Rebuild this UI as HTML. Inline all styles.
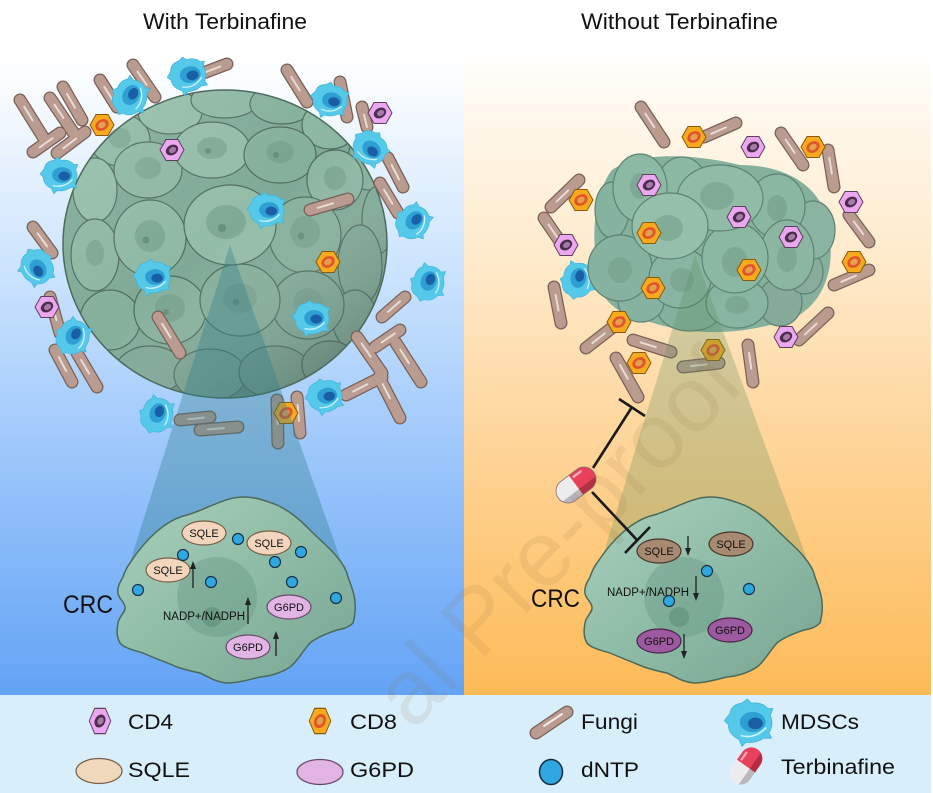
<!DOCTYPE html>
<html><head><meta charset="utf-8"><style>
html,body{margin:0;padding:0;background:#fff;width:933px;height:793px;overflow:hidden}
svg{display:block;overflow:hidden}
text{font-family:"Liberation Sans",Arial,sans-serif;fill:#111}
</style></head><body>
<svg width="933" height="793" viewBox="0 0 933 793" xmlns="http://www.w3.org/2000/svg" style="overflow:hidden">
<defs>
<linearGradient id="gL" gradientUnits="userSpaceOnUse" x1="0" y1="57" x2="0" y2="695">
<stop offset="0" stop-color="#ffffff"/><stop offset=".12" stop-color="#eef6fe"/><stop offset=".35" stop-color="#c9e2fd"/><stop offset=".6" stop-color="#a0c9fb"/><stop offset="1" stop-color="#63a3f5"/></linearGradient>
<linearGradient id="gR" gradientUnits="userSpaceOnUse" x1="0" y1="57" x2="0" y2="695">
<stop offset="0" stop-color="#fffefc"/><stop offset=".12" stop-color="#fff6e8"/><stop offset=".35" stop-color="#fee8c6"/><stop offset=".6" stop-color="#fed59a"/><stop offset="1" stop-color="#fdbb57"/></linearGradient>
<linearGradient id="shade" gradientUnits="userSpaceOnUse" x1="90" y1="100" x2="330" y2="400">
<stop offset="0" stop-color="#ffffff" stop-opacity=".12"/><stop offset=".5" stop-color="#ffffff" stop-opacity="0"/><stop offset="1" stop-color="#2c423a" stop-opacity=".35"/></linearGradient>
<linearGradient id="cellG" x1="0" y1="0" x2="1" y2="1">
<stop offset="0" stop-color="#a9d0bd"/><stop offset=".5" stop-color="#8dbba6"/><stop offset="1" stop-color="#79a592"/></linearGradient>
<clipPath id="tclip"><ellipse cx="225" cy="244" rx="162" ry="154"/></clipPath>
<clipPath id="frame"><rect x="0" y="0" width="933" height="793"/></clipPath>
<marker id="ah" markerWidth="8" markerHeight="8" refX="4" refY="4" orient="auto" markerUnits="userSpaceOnUse">
<path d="M0,1 L8,4 L0,7 Z" fill="#222"/></marker>

<g id="cd4"><path d="M-12,0 L-6,-10.5 L6,-10.5 L12,0 L6,10.5 L-6,10.5Z" fill="#eba7ef" stroke="#5e3f5e" stroke-width="1"/><ellipse rx="6.5" ry="5" transform="rotate(-30)" fill="#4b2d4d"/><ellipse cx=".5" cy=".3" rx="3.8" ry="2.8" transform="rotate(-30)" fill="#a57aa8"/></g>
<g id="cd8"><path d="M-12,0 L-6,-10.5 L6,-10.5 L12,0 L6,10.5 L-6,10.5Z" fill="#f7aa1e" stroke="#8a5a0a" stroke-width="1"/><ellipse rx="7" ry="5.5" transform="rotate(-30)" fill="#e2552a"/><ellipse rx="4" ry="3" transform="rotate(-30)" fill="#e3a050"/></g>
<g id="md"><path d="M-15,-6 Q-14,-13 -6,-14 L-2,-17 L1,-14 Q9,-15 13,-10 L17,-10 L15,-5 Q18,2 14,8 L16,12 L10,12 Q4,16 -3,15 L-6,18 L-8,13 Q-16,9 -16,2 L-19,-1 Z" fill="#55c9ea" stroke="#3fb3d8" stroke-width=".6" stroke-linejoin="round"/><ellipse cx="2" cy="0" rx="9.5" ry="7.5" fill="#2e9fd3"/><ellipse cx="4" cy="1" rx="5.5" ry="4.3" fill="#1a5fa6"/><path d="M-7,10 Q4,13 12,4" fill="none" stroke="#e8f8ff" stroke-width="1.2" opacity=".85"/></g>

<g id="rodsL">
<line x1="20" y1="100" x2="43" y2="137"/><line x1="50" y1="98" x2="75" y2="135"/><line x1="63" y1="87" x2="82" y2="120"/>
<line x1="33" y1="152" x2="60" y2="133"/><line x1="57" y1="153" x2="85" y2="132"/><line x1="100" y1="80" x2="117" y2="107"/>
<line x1="133" y1="65" x2="155" y2="97"/><line x1="198" y1="75" x2="227" y2="64"/><line x1="287" y1="70" x2="307" y2="102"/>
<line x1="340" y1="82" x2="347" y2="117"/><line x1="362" y1="107" x2="367" y2="127"/><line x1="388" y1="158" x2="403" y2="187"/>
<line x1="380" y1="183" x2="398" y2="213"/><line x1="310" y1="210" x2="348" y2="199"/><line x1="33" y1="227" x2="52" y2="253"/>
<line x1="50" y1="297" x2="60" y2="333"/><line x1="55" y1="350" x2="72" y2="382"/><line x1="77" y1="353" x2="97" y2="387"/>
<line x1="158" y1="317" x2="180" y2="353"/><line x1="382" y1="317" x2="405" y2="297"/><line x1="357" y1="337" x2="382" y2="373"/>
<line x1="396" y1="343" x2="421" y2="382"/><line x1="375" y1="347" x2="400" y2="330"/><line x1="346" y1="395" x2="382" y2="377"/>
<line x1="379" y1="377" x2="400" y2="418"/><line x1="277" y1="400" x2="278" y2="443"/><line x1="297" y1="397" x2="300" y2="433"/>
<line x1="200" y1="430" x2="238" y2="427"/><line x1="180" y1="420" x2="210" y2="417"/>
</g>
<g id="rodsR">
<line x1="641" y1="107" x2="664" y2="142"/><line x1="704" y1="137" x2="736" y2="123"/><line x1="781" y1="133" x2="803" y2="165"/>
<line x1="828" y1="150" x2="834" y2="187"/><line x1="551" y1="207" x2="579" y2="180"/><line x1="544" y1="218" x2="561" y2="243"/>
<line x1="554" y1="287" x2="561" y2="323"/><line x1="849" y1="215" x2="869" y2="242"/><line x1="834" y1="285" x2="869" y2="270"/>
<line x1="799" y1="340" x2="828" y2="313"/><line x1="586" y1="348" x2="613" y2="327"/><line x1="633" y1="340" x2="671" y2="352"/>
<line x1="683" y1="367" x2="719" y2="363"/><line x1="748" y1="345" x2="753" y2="382"/><line x1="616" y1="358" x2="638" y2="397"/>
</g>
</defs>

<g clip-path="url(#frame)">
<!-- backgrounds -->
<rect x="0" y="0" width="933" height="793" fill="#fff"/>
<rect x="0" y="57" width="464" height="638" fill="url(#gL)"/>
<rect x="464" y="57" width="467" height="638" fill="url(#gR)"/>
<rect x="0" y="695" width="931" height="98" fill="#d8eefb"/>

<!-- titles -->
<text x="143" y="29" font-size="22" textLength="164" lengthAdjust="spacingAndGlyphs">With Terbinafine</text>
<text x="581" y="29" font-size="22" textLength="197" lengthAdjust="spacingAndGlyphs">Without Terbinafine</text>

<!-- LEFT TUMOR -->
<ellipse cx="225" cy="244" rx="162" ry="154" fill="#7fa996"/>
<g clip-path="url(#tclip)" stroke="#4d6b5d" stroke-width="1.2">
<ellipse cx="225" cy="395" rx="90" ry="22" fill="#6f8f82"/>
<ellipse cx="120" cy="140" rx="30" ry="26" fill="#8cb6a2"/>
<ellipse cx="170" cy="112" rx="32" ry="22" fill="#91bba7"/>
<ellipse cx="225" cy="100" rx="34" ry="18" fill="#8cb6a2"/>
<ellipse cx="282" cy="104" rx="32" ry="20" fill="#84af9b"/>
<ellipse cx="330" cy="125" rx="28" ry="24" fill="#8cb6a2"/>
<ellipse cx="368" cy="160" rx="20" ry="30" fill="#84af9b"/>
<ellipse cx="95" cy="190" rx="22" ry="32" fill="#91bba7"/>
<ellipse cx="148" cy="170" rx="34" ry="28" fill="#8cb6a2"/>
<ellipse cx="212" cy="150" rx="38" ry="28" fill="#91bba7"/>
<ellipse cx="280" cy="155" rx="36" ry="28" fill="#84af9b"/>
<ellipse cx="335" cy="180" rx="28" ry="30" fill="#8cb6a2"/>
<ellipse cx="378" cy="220" rx="16" ry="34" fill="#80aa97"/>
<ellipse cx="95" cy="255" rx="24" ry="36" fill="#8cb6a2"/>
<ellipse cx="360" cy="265" rx="22" ry="40" fill="#7ea895"/>
<ellipse cx="110" cy="320" rx="30" ry="30" fill="#84af9b"/>
<ellipse cx="355" cy="320" rx="22" ry="30" fill="#7ea895"/>
<ellipse cx="150" cy="370" rx="34" ry="24" fill="#7fa896"/>
<ellipse cx="210" cy="375" rx="36" ry="26" fill="#7aa391"/>
<ellipse cx="275" cy="372" rx="36" ry="26" fill="#78a08f"/>
<ellipse cx="330" cy="365" rx="28" ry="24" fill="#789f8e"/>
<ellipse cx="150" cy="238" rx="36" ry="38" fill="#8eb8a4"/>
<ellipse cx="305" cy="235" rx="36" ry="38" fill="#86b09c"/>
<ellipse cx="170" cy="310" rx="36" ry="34" fill="#86b09c"/>
<ellipse cx="308" cy="305" rx="36" ry="34" fill="#80aa97"/>
<ellipse cx="240" cy="300" rx="40" ry="36" fill="#84ae9a"/>
<ellipse cx="230" cy="225" rx="46" ry="40" fill="#93bca8"/>
</g>
<g fill="#6f9a86" opacity=".55">
<ellipse cx="226" cy="222" rx="20" ry="17"/><ellipse cx="150" cy="236" rx="15" ry="16"/><ellipse cx="305" cy="232" rx="15" ry="16"/>
<ellipse cx="240" cy="298" rx="17" ry="15"/><ellipse cx="170" cy="308" rx="15" ry="14"/><ellipse cx="308" cy="302" rx="15" ry="14"/>
<ellipse cx="212" cy="148" rx="15" ry="11"/><ellipse cx="280" cy="152" rx="14" ry="11"/><ellipse cx="148" cy="168" rx="13" ry="11"/>
<ellipse cx="120" cy="138" rx="11" ry="10"/><ellipse cx="335" cy="178" rx="11" ry="12"/><ellipse cx="95" cy="253" rx="9" ry="13"/>
</g>
<g fill="#557f6b" opacity=".6">
<circle cx="222" cy="228" r="4"/><circle cx="146" cy="240" r="3.5"/><circle cx="301" cy="236" r="3.5"/><circle cx="236" cy="302" r="3.5"/><circle cx="166" cy="312" r="3"/><circle cx="304" cy="306" r="3"/><circle cx="208" cy="151" r="3"/><circle cx="276" cy="155" r="3"/>
</g>
<ellipse cx="225" cy="244" rx="162" ry="154" fill="url(#shade)" stroke="#4d6b5d" stroke-width="1.5"/>

<!-- left rods -->
<use href="#rodsL" stroke="#7a6057" stroke-width="13" stroke-linecap="round"/>
<use href="#rodsL" stroke="#ba9b8f" stroke-width="10.5" stroke-linecap="round"/>
<use href="#rodsL" stroke="#f3ebe7" stroke-width="2" stroke-linecap="round" stroke-dasharray="16 200" stroke-dashoffset="-8" opacity=".8"/>

<!-- left MDSCs -->
<use href="#md" transform="translate(130,97) rotate(-60) scale(1.1)"/>
<use href="#md" transform="translate(188,75) rotate(-10) scale(1.1)"/>
<use href="#md" transform="translate(330,100) rotate(10) scale(1.05)"/>
<use href="#md" transform="translate(370,148) rotate(40) scale(1.05)"/>
<use href="#md" transform="translate(60,175) rotate(0) scale(1.05)"/>
<use href="#md" transform="translate(267,210) rotate(0) scale(1.05)"/>
<use href="#md" transform="translate(413,222) rotate(-50) scale(1.05)"/>
<use href="#md" transform="translate(428,283) rotate(-70) scale(1.05)"/>
<use href="#md" transform="translate(37,267) rotate(60) scale(1.05)"/>
<use href="#md" transform="translate(153,277) rotate(0) scale(1.05)"/>
<use href="#md" transform="translate(73,337) rotate(-60) scale(1.05)"/>
<use href="#md" transform="translate(312,318) rotate(0) scale(1.05)"/>
<use href="#md" transform="translate(325,396) rotate(-10) scale(1.05)"/>
<use href="#md" transform="translate(157,415) rotate(-70) scale(1.05)"/>

<!-- left hexes -->
<use href="#cd4" transform="translate(172,150)"/>
<use href="#cd4" transform="translate(380,113)"/>
<use href="#cd4" transform="translate(47,307)"/>
<use href="#cd8" transform="translate(102,125)"/>
<use href="#cd8" transform="translate(328,262)"/>
<use href="#cd8" transform="translate(286,413)"/>

<!-- RIGHT: MDSC behind tumor -->
<use href="#md" transform="translate(578,280) rotate(-80) scale(1.05)"/>

<!-- RIGHT TUMOR -->
<path d="M612,170 C640,150 700,155 740,165 C790,165 830,190 830,240 C835,280 815,320 770,325 C730,335 690,335 650,322 C610,315 590,290 595,250 C592,215 600,185 612,170 Z" fill="#84b09c"/>
<g stroke="#5d8272" stroke-width="1.2">
<ellipse cx="780" cy="302" rx="22" ry="24" fill="#86a99a"/>
<ellipse cx="805" cy="272" rx="18" ry="22" fill="#88ab9c"/>
<ellipse cx="690" cy="310" rx="32" ry="21" fill="#84b19d"/>
<ellipse cx="641" cy="302" rx="23" ry="20" fill="#86b39f"/>
<ellipse cx="737" cy="303" rx="31" ry="25" fill="#88b5a1"/>
<ellipse cx="813" cy="230" rx="22" ry="29" fill="#8ab3a1"/>
<ellipse cx="612" cy="210" rx="17" ry="28" fill="#86b39f"/>
<ellipse cx="682" cy="180" rx="23" ry="23" fill="#8ab8a3"/>
<ellipse cx="640" cy="188" rx="27" ry="34" fill="#8cb9a4"/>
<ellipse cx="777" cy="206" rx="28" ry="32" fill="#8ab7a2"/>
<ellipse cx="620" cy="268" rx="32" ry="33" fill="#86b39f"/>
<ellipse cx="680" cy="278" rx="31" ry="30" fill="#88b5a1"/>
<ellipse cx="787" cy="255" rx="27" ry="35" fill="#8ab6a2"/>
<ellipse cx="735" cy="258" rx="33" ry="35" fill="#8bb8a3"/>
<ellipse cx="720" cy="198" rx="43" ry="33" fill="#8fbba7"/>
<ellipse cx="670" cy="226" rx="38" ry="33" fill="#93bfab"/>
</g>
<g fill="#6f9a86" opacity=".5">
<ellipse cx="717" cy="196" rx="17" ry="14"/><ellipse cx="668" cy="228" rx="15" ry="13"/><ellipse cx="735" cy="262" rx="13" ry="15"/>
<ellipse cx="640" cy="186" rx="10" ry="13"/><ellipse cx="777" cy="208" rx="10" ry="13"/><ellipse cx="620" cy="270" rx="12" ry="13"/>
<ellipse cx="682" cy="280" rx="12" ry="12"/><ellipse cx="787" cy="258" rx="10" ry="14"/><ellipse cx="737" cy="305" rx="12" ry="9"/>
</g>

<!-- right rods -->
<use href="#rodsR" stroke="#7a6057" stroke-width="13" stroke-linecap="round"/>
<use href="#rodsR" stroke="#ba9b8f" stroke-width="10.5" stroke-linecap="round"/>
<use href="#rodsR" stroke="#f3ebe7" stroke-width="2" stroke-linecap="round" stroke-dasharray="16 200" stroke-dashoffset="-8" opacity=".8"/>

<!-- right hexes -->
<use href="#cd8" transform="translate(694,137)"/>
<use href="#cd8" transform="translate(813,147)"/>
<use href="#cd8" transform="translate(581,200)"/>
<use href="#cd8" transform="translate(649,233)"/>
<use href="#cd8" transform="translate(749,270)"/>
<use href="#cd8" transform="translate(854,262)"/>
<use href="#cd8" transform="translate(653,288)"/>
<use href="#cd8" transform="translate(619,322)"/>
<use href="#cd8" transform="translate(713,350)"/>
<use href="#cd8" transform="translate(639,363)"/>
<use href="#cd4" transform="translate(753,147)"/>
<use href="#cd4" transform="translate(851,202)"/>
<use href="#cd4" transform="translate(649,185)"/>
<use href="#cd4" transform="translate(739,217)"/>
<use href="#cd4" transform="translate(791,237)"/>
<use href="#cd4" transform="translate(566,245)"/>
<use href="#cd4" transform="translate(786,337)"/>

<!-- cones -->
<polygon points="230,245 125,578 347,578" fill="#2a7a8a" opacity=".35"/>
<polygon points="695,255 596,578 814,578" fill="#5a8c5a" opacity=".28"/>

<!-- CRC cells -->
<g id="crc">
<path d="M130,563 C145,540 165,520 187,515 C205,510 225,497 243,497 C258,497 268,502 277,505 C292,512 302,522 310,530 C322,542 332,550 337,557 C344,565 347,572 348,577 C352,588 355,596 355,603 C356,612 354,619 353,623 C348,628 342,629 337,630 C325,634 316,638 310,643 C302,652 297,662 290,667 C281,673 270,676 260,677 C248,680 237,683 227,683 C215,682 207,676 200,673 C190,671 183,669 177,667 C165,662 152,657 143,653 C133,650 124,648 120,643 C116,636 117,629 118,623 C119,616 126,612 125,607 C124,601 118,598 118,593 C117,586 121,581 123,577 C125,571 127,567 130,563 Z" fill="url(#cellG)" stroke="#4a6a5a" stroke-width="1.5"/>
<circle cx="217" cy="597" r="40" fill="#5f8f7a" opacity=".35"/>
<circle cx="212" cy="617" r="10" fill="#4f7f6a" opacity=".4"/>
</g>
<use href="#crc" transform="translate(467,0)"/>

<!-- cell contents -->
<g stroke-width="1.2">
<ellipse cx="204" cy="533" rx="22" ry="12" fill="#f1d6bd" stroke="#7a6048"/>
<ellipse cx="269" cy="543" rx="22" ry="12" fill="#f1d6bd" stroke="#7a6048"/>
<ellipse cx="168" cy="570" rx="22" ry="12" fill="#f1d6bd" stroke="#7a6048"/>
<ellipse cx="289" cy="607" rx="22" ry="12" fill="#e2b4e4" stroke="#6a4a6a"/>
<ellipse cx="248" cy="647" rx="22" ry="12" fill="#e2b4e4" stroke="#6a4a6a"/>
<ellipse cx="659" cy="551" rx="22" ry="12" fill="#a88a72" stroke="#4a3428"/>
<ellipse cx="731" cy="544" rx="22" ry="12" fill="#a88a72" stroke="#4a3428"/>
<ellipse cx="659" cy="641" rx="22" ry="12" fill="#9e5aa0" stroke="#4a224a"/>
<ellipse cx="730" cy="630" rx="22" ry="12" fill="#9e5aa0" stroke="#4a224a"/>
</g>
<g font-size="11" text-anchor="middle">
<text x="204" y="537">SQLE</text><text x="269" y="547">SQLE</text><text x="168" y="574">SQLE</text>
<text x="289" y="611">G6PD</text><text x="248" y="651">G6PD</text>
<text x="659" y="555">SQLE</text><text x="731" y="548">SQLE</text>
<text x="659" y="645">G6PD</text><text x="730" y="634">G6PD</text>
</g>
<text x="163" y="620" font-size="11.5" textLength="82" lengthAdjust="spacingAndGlyphs">NADP+/NADPH</text>
<text x="607" y="596" font-size="11.5" textLength="82" lengthAdjust="spacingAndGlyphs">NADP+/NADPH</text>
<g stroke="#222" stroke-width="1.3" marker-end="url(#ah)">
<line x1="193" y1="588" x2="193" y2="565"/>
<line x1="248" y1="624" x2="248" y2="601"/>
<line x1="276" y1="656" x2="276" y2="635"/>
<line x1="688" y1="536" x2="688" y2="552"/>
<line x1="696" y1="576" x2="696" y2="597"/>
<line x1="684" y1="634" x2="684" y2="655"/>
</g>
<g fill="#2ea8e0" stroke="#1a3148" stroke-width="1.2">
<circle cx="183" cy="555" r="5.5"/><circle cx="238" cy="539" r="5.5"/><circle cx="301" cy="552" r="5.5"/><circle cx="275" cy="562" r="5.5"/>
<circle cx="211" cy="582" r="5.5"/><circle cx="292" cy="582" r="5.5"/><circle cx="138" cy="590" r="5.5"/><circle cx="336" cy="598" r="5.5"/>
<circle cx="707" cy="571" r="5.5"/><circle cx="749" cy="589" r="5.5"/><circle cx="669" cy="601" r="5.5"/>
</g>

<text x="63" y="613" font-size="25" textLength="50" lengthAdjust="spacingAndGlyphs">CRC</text>
<text x="531" y="607" font-size="25" textLength="49" lengthAdjust="spacingAndGlyphs">CRC</text>

<!-- inhibition lines -->
<g stroke="#1a1a1a" stroke-width="2.6" stroke-linecap="butt">
<line x1="593" y1="468" x2="632" y2="407"/>
<line x1="619" y1="399" x2="645" y2="416"/>
<line x1="592" y1="492" x2="637" y2="540"/>
<line x1="625" y1="553" x2="650" y2="527"/>
</g>
<g transform="translate(576,485) rotate(-37)">
<path d="M0,-12 H-10 A12,12 0 0 0 -10,12 H0 Z" fill="#ececef"/>
<path d="M0,5 H-20.9 A12,12 0 0 0 -10,12 H0 Z" fill="#b7b7c0"/>
<path d="M0,-12 H10 A12,12 0 0 1 10,12 H0 Z" fill="#e9405b"/>
<path d="M0,5 H20.9 A12,12 0 0 1 10,12 H0 Z" fill="#b82a44"/>
<path d="M3,-8 H12" stroke="#f7a8b6" stroke-width="2.5" stroke-linecap="round"/>
<rect x="-22" y="-12" width="44" height="24" rx="12" fill="none" stroke="#8a6a70" stroke-width=".8"/>
</g>

<!-- legend -->
<g transform="translate(100,721) scale(0.9,1.2)"><use href="#cd4"/></g>
<g transform="translate(320,721) scale(0.9,1.2)"><use href="#cd8"/></g>
<line x1="536" y1="733" x2="567" y2="712" stroke="#7a6057" stroke-width="13" stroke-linecap="round"/>
<line x1="536" y1="733" x2="567" y2="712" stroke="#ba9b8f" stroke-width="10.5" stroke-linecap="round"/>
<line x1="544" y1="726" x2="562" y2="714" stroke="#f3ebe7" stroke-width="2" stroke-linecap="round"/>
<use href="#md" transform="translate(750,722) scale(1.35)"/>
<ellipse cx="99" cy="771" rx="23" ry="12.5" fill="#f0d8bd" stroke="#7a6048" stroke-width="1.2"/>
<ellipse cx="320" cy="772" rx="23" ry="12.5" fill="#e2b4e4" stroke="#6a4a6a" stroke-width="1.2"/>
<ellipse cx="551" cy="772" rx="11.5" ry="12.5" fill="#2ea6e0" stroke="#1a2a3a" stroke-width="1.5"/>
<g transform="translate(746,766) rotate(-55) scale(.92)">
<path d="M0,-12 H-10 A12,12 0 0 0 -10,12 H0 Z" fill="#ececef"/>
<path d="M0,5 H-20.9 A12,12 0 0 0 -10,12 H0 Z" fill="#b7b7c0"/>
<path d="M0,-12 H10 A12,12 0 0 1 10,12 H0 Z" fill="#e9405b"/>
<path d="M0,5 H20.9 A12,12 0 0 1 10,12 H0 Z" fill="#b82a44"/>
<path d="M3,-8 H12" stroke="#f7a8b6" stroke-width="2.5" stroke-linecap="round"/>
</g>
<g font-size="21">
<text x="128" y="729" textLength="45" lengthAdjust="spacingAndGlyphs">CD4</text>
<text x="350" y="729" textLength="47" lengthAdjust="spacingAndGlyphs">CD8</text>
<text x="581" y="729" textLength="57" lengthAdjust="spacingAndGlyphs">Fungi</text>
<text x="781" y="729" textLength="78" lengthAdjust="spacingAndGlyphs">MDSCs</text>
<text x="128" y="777" textLength="62" lengthAdjust="spacingAndGlyphs">SQLE</text>
<text x="350" y="777" textLength="64" lengthAdjust="spacingAndGlyphs">G6PD</text>
<text x="581" y="777" textLength="58" lengthAdjust="spacingAndGlyphs">dNTP</text>
<text x="781" y="774" textLength="114" lengthAdjust="spacingAndGlyphs">Terbinafine</text>
</g>

<!-- watermark (only the in-frame portion) -->
<g transform="translate(480,662) rotate(-46)" opacity=".11">
<text x="-97" y="0" font-size="92" style="fill:#8a6a40">al Pre-proof</text>
</g>
</g>
</svg>
</body></html>
